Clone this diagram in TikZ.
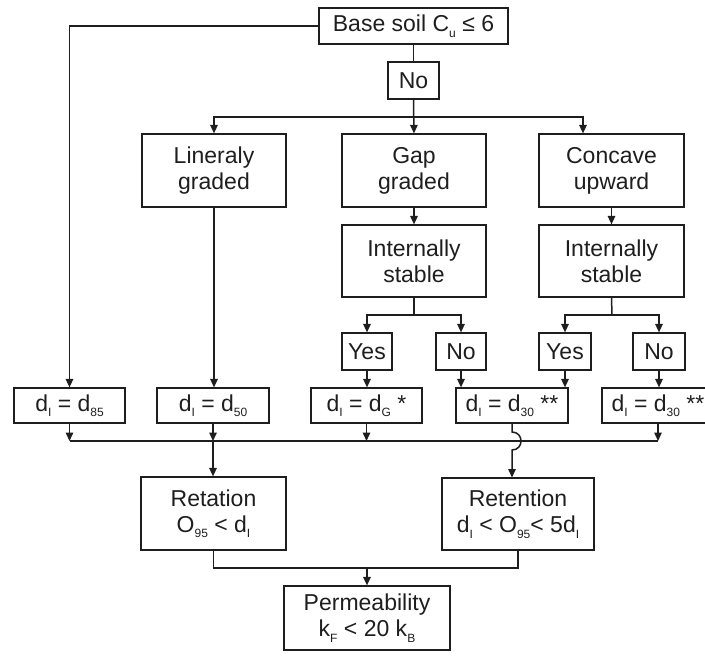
\documentclass[tikz,border=0pt]{standalone}
\usepackage{fontspec}
\setmainfont{Liberation Sans}
\usetikzlibrary{arrows.meta}
\definecolor{ink}{HTML}{1E1E1E}
% small lowered index used in the formulas
\newcommand{\lo}[1]{\raisebox{-0.45ex}{\fontsize{12}{12}\selectfont #1}}

\begin{document}
\begin{tikzpicture}[x=1pt,y=-1pt,
  box/.style={draw=ink, line width=1.2pt, inner sep=0pt, align=center,
              font=\fontsize{23}{26}\selectfont, text=ink},
  link/.style={draw=ink, line width=1.5pt},
  arr/.style={link, -{Triangle[length=8.5pt,width=7.5pt]}}]
\clip (0,0) rectangle (705,657);

% top of the chart
\node[box, minimum width=189pt, minimum height=36pt] (base) at (413.5,26) {Base soil C\lo{u} ≤ 6};
\node[box, minimum width=51pt, minimum height=37pt] (no0) at (413.5,80.5) {No};

% gradation classes
\node[box, minimum width=144pt, minimum height=73pt] (lin)  at (214,170.5) {Lineraly\\graded};
\node[box, minimum width=144pt, minimum height=73pt] (gap)  at (414,170.5) {Gap\\graded};
\node[box, minimum width=145pt, minimum height=73pt] (conc) at (611.5,170.5) {Concave\\upward};

% stability checks
\node[box, minimum width=144pt, minimum height=72pt] (is1) at (414,261) {Internally\\stable};
\node[box, minimum width=145pt, minimum height=72pt] (is2) at (611.5,261) {Internally\\stable};

\node[box, minimum width=50pt, minimum height=37pt] (yes1) at (367,351.5) {Yes};
\node[box, minimum width=50pt, minimum height=37pt] (no1)  at (461,351.5) {No};
\node[box, minimum width=52pt, minimum height=37pt] (yes2) at (565,351.5) {Yes};
\node[box, minimum width=52pt, minimum height=37pt] (no2)  at (659,351.5) {No};

% indicative grain sizes
\node[box, minimum width=111pt, minimum height=35pt] (d85) at (69.5,405.5) {d\lo{I} = d\lo{85}};
\node[box, minimum width=112pt, minimum height=35pt] (d50) at (213,405.5) {d\lo{I} = d\lo{50}};
\node[box, minimum width=111pt, minimum height=35pt] (dG)  at (366.5,405.5) {d\lo{I} = d\lo{G} *};
\node[box, minimum width=112pt, minimum height=35pt] (d30a) at (512,405.5) {d\lo{I} = d\lo{30} **};
\node[box, minimum width=112pt, minimum height=35pt] (d30b) at (658,405.5) {d\lo{I} = d\lo{30} **};

% criteria
\node[box, minimum width=145pt, minimum height=73pt] (ret1) at (213.5,513.5) {Retation\\O\lo{95} < d\lo{I}};
\node[box, minimum width=152pt, minimum height=72pt] (ret2) at (518,514) {Retention\\d\lo{I} < O\lo{95}< 5d\lo{I}};
\node[box, minimum width=166pt, minimum height=64pt] (perm) at (367,618) {Permeability\\k\lo{F} < 20 k\lo{B}};

% junction points
\coordinate (s1) at (414,117);
\coordinate (s2) at (414,315);
\coordinate (s3) at (612,315);
\coordinate (bl) at (69.5,441);
\coordinate (br) at (658,441);
\coordinate (mg) at (367,568);

% connectors
\draw[arr] (base.west) -| (d85.north);
\draw[link] (base.south) -- (no0.north);
\draw[arr] (no0.south) -- (gap.north);
\draw[arr] (s1) -| (lin.north);
\draw[arr] (s1) -| ([xshift=-28.5pt]conc.north);
\draw[arr] (lin.south) -- (lin.south |- d50.north);
\draw[arr] (gap.south) -- (is1.north);
\draw[arr] (conc.south) -- (is2.north);

\draw[link] (is1.south) -- (s2);
\draw[arr] (s2) -| (yes1.north);
\draw[arr] (s2) -| (no1.north);
\draw[link] (is2.south) -- (s3);
\draw[arr] (s3) -| (yes2.north);
\draw[arr] (s3) -| (no2.north);

\draw[arr] (yes1.south) -- (yes1.south |- dG.north);
\draw[arr] (no1.south) -- (no1.south |- d30a.north);
\draw[arr] (yes2.south) -- (yes2.south |- d30a.north);
\draw[arr] (no2.south) -- (no2.south |- d30b.north);

% collecting line under the grain sizes
\draw[link] (bl) -- (br);
\draw[arr] (d85.south) -- (bl);
\draw[arr] (d50.south) -- (d50.south |- bl);
\draw[arr] (dG.south) -- (dG.south |- bl);
\draw[arr] (d30b.south) -- (br);
\draw[arr] (d50.south |- bl) -- (d50.south |- ret1.north);

% line hop over the collecting line
\draw[arr] (d30a.south) -- (512,432)
  .. controls (524,432) and (524,450) .. (512,450)
  -- (512,477.5);

% joining the two criteria
\draw[link] (ret1.south) |- (mg) -| (ret2.south);
\draw[arr] (mg) -- (perm.north);
\end{tikzpicture}
\end{document}
